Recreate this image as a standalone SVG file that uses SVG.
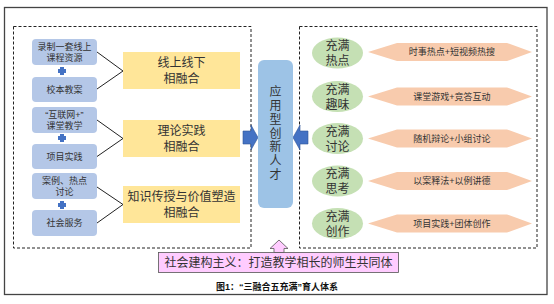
<svg xmlns="http://www.w3.org/2000/svg" width="554" height="304" viewBox="0 0 554 304">
<defs>
<style>
text{font-family:"Liberation Sans","Noto Sans CJK SC",sans-serif;fill:#333;text-anchor:middle;dominant-baseline:central}
.sb{fill:#b4c7e7}
.yb{fill:#ffe699}
.ge{fill:#c5e0b4}
.hx{fill:#f8cbad}
.dash{fill:none;stroke:#222;stroke-width:1;stroke-dasharray:3,2}
.ln{stroke:#222;stroke-width:1;fill:none}
.s9{font-size:9px}
.s12{font-size:12px}
.plus{fill:#4472c4}
.ba{fill:#4472c4;stroke:#2f5597;stroke-width:0.6}
</style>
</defs>
<rect x="0" y="0" width="554" height="304" fill="#fff"/>
<rect x="4.5" y="7.5" width="542.5" height="287" fill="#fff" stroke="#444" stroke-width="1.3"/>
<rect class="dash" x="13.5" y="26.5" width="237.5" height="221.5"/>
<rect class="dash" x="299.5" y="26.5" width="237.5" height="221.5"/>

<g id="connectors">
<path class="ln" d="M97 52 L123 71 M97 89 L123 71"/>
<path class="ln" d="M97 120 L123 138.5 M97 156.5 L123 138.5"/>
<path class="ln" d="M97 187 L123 204.5 M97 223 L123 204.5"/>
<path class="ba" d="M243 131 H251 V125 L258 137.5 L251 150 V144 H243 Z"/>
<path class="ba" d="M308 131 H300 V125 L293 137.5 L300 150 V144 H308 Z"/>
<path d="M279 240 L288 248.5 H284 V252.5 H274 V248.5 H270 Z" fill="#ffccff" stroke="#555" stroke-width="0.8"/>
</g>

<g id="n1"><rect class="sb" x="32" y="39" width="65" height="26" rx="4"/><text class="s9"><tspan x="64.5" y="46.5">录制一套线上</tspan><tspan x="64.5" y="57.5">课程资源</tspan></text></g>
<g id="p1"><path class="plus" d="M60 67 h4 v2 h2 v4 h-2 v2 h-4 v-2 h-2 v-4 h2 Z"/></g>
<g id="n2"><rect class="sb" x="32" y="77" width="65" height="25" rx="4"/><text class="s9" x="64.5" y="89.5">校本教案</text></g>
<g id="n3"><rect class="sb" x="32" y="107" width="65" height="26" rx="4"/><text class="s9"><tspan x="64.5" y="114.5">“互联网+”</tspan><tspan x="64.5" y="125.5">课堂教学</tspan></text></g>
<g id="p2"><path class="plus" d="M60 134 h4 v2 h2 v4 h-2 v2 h-4 v-2 h-2 v-4 h2 Z"/></g>
<g id="n4"><rect class="sb" x="32" y="144" width="65" height="25" rx="4"/><text class="s9" x="64.5" y="156.5">项目实践</text></g>
<g id="n5"><rect class="sb" x="32" y="173" width="65" height="26" rx="4"/><text class="s9"><tspan x="64.5" y="180.5">案例、热点</tspan><tspan x="64.5" y="191.5">讨论</tspan></text></g>
<g id="p3"><path class="plus" d="M60 201 h4 v2 h2 v4 h-2 v2 h-4 v-2 h-2 v-4 h2 Z"/></g>
<g id="n6"><rect class="sb" x="32" y="210" width="65" height="26" rx="4"/><text class="s9" x="64.5" y="223">社会服务</text></g>

<g id="y1"><rect class="yb" x="123" y="52" width="117" height="37"/><text class="s12"><tspan x="181.5" y="63">线上线下</tspan><tspan x="181.5" y="79">相融合</tspan></text></g>
<g id="y2"><rect class="yb" x="123" y="120" width="117" height="37"/><text class="s12"><tspan x="181.5" y="131">理论实践</tspan><tspan x="181.5" y="147">相融合</tspan></text></g>
<g id="y3"><rect class="yb" x="123" y="186" width="117" height="37"/><text class="s12"><tspan x="181.5" y="197">知识传授与价值塑造</tspan><tspan x="181.5" y="213">相融合</tspan></text></g>

<g id="center"><rect x="258" y="60" width="35" height="148" rx="6" fill="#9dc3e6"/>
<text class="s12"><tspan x="275.5" y="92">应</tspan><tspan x="275.5" y="106">用</tspan><tspan x="275.5" y="120">型</tspan><tspan x="275.5" y="133.5">创</tspan><tspan x="275.5" y="147">新</tspan><tspan x="275.5" y="161">人</tspan><tspan x="275.5" y="175">才</tspan></text></g>

<g id="e1"><ellipse class="ge" cx="337.5" cy="53" rx="25.5" ry="15.5"/><text class="s12"><tspan x="337.5" y="46">充满</tspan><tspan x="337.5" y="61">热点</tspan></text></g>
<g id="e2"><ellipse class="ge" cx="337.5" cy="96.5" rx="25.5" ry="15.5"/><text class="s12"><tspan x="337.5" y="89.5">充满</tspan><tspan x="337.5" y="104.5">趣味</tspan></text></g>
<g id="e3"><ellipse class="ge" cx="337.5" cy="138.5" rx="25.5" ry="15.5"/><text class="s12"><tspan x="337.5" y="131.5">充满</tspan><tspan x="337.5" y="146.5">讨论</tspan></text></g>
<g id="e4"><ellipse class="ge" cx="337.5" cy="181" rx="25.5" ry="15.5"/><text class="s12"><tspan x="337.5" y="174">充满</tspan><tspan x="337.5" y="189">思考</tspan></text></g>
<g id="e5"><ellipse class="ge" cx="337.5" cy="223.5" rx="25.5" ry="15.5"/><text class="s12"><tspan x="337.5" y="216.5">充满</tspan><tspan x="337.5" y="231.5">创作</tspan></text></g>

<g id="h1"><path class="hx" d="M368 52 L397 43 H507 L532 52 L507 61 H397 Z"/><text class="s9" x="452" y="52">时事热点+短视频热搜</text></g>
<g id="h2"><path class="hx" d="M368 96.5 L397 87.5 H507 L532 96.5 L507 105.5 H397 Z"/><text class="s9" x="452" y="96.5">课堂游戏+竞答互动</text></g>
<g id="h3"><path class="hx" d="M368 138.5 L397 129.5 H507 L532 138.5 L507 147.5 H397 Z"/><text class="s9" x="452" y="138.5">随机辩论+小组讨论</text></g>
<g id="h4"><path class="hx" d="M368 181 L397 172 H507 L532 181 L507 190 H397 Z"/><text class="s9" x="452" y="181">以案释法+以例讲德</text></g>
<g id="h5"><path class="hx" d="M368 223.5 L397 214.5 H507 L532 223.5 L507 232.5 H397 Z"/><text class="s9" x="452" y="223.5">项目实践+团体创作</text></g>

<g id="bottom"><rect x="158.5" y="252.5" width="240" height="20" fill="#ffccff" stroke="#555" stroke-width="0.8"/><text class="s12" x="278.5" y="262.5">社会建构主义：打造教学相长的师生共同体</text></g>
<text x="277" y="287" style="font-size:9px;font-weight:bold;fill:#111">图1：“三融合五充满”育人体系</text>
</svg>
